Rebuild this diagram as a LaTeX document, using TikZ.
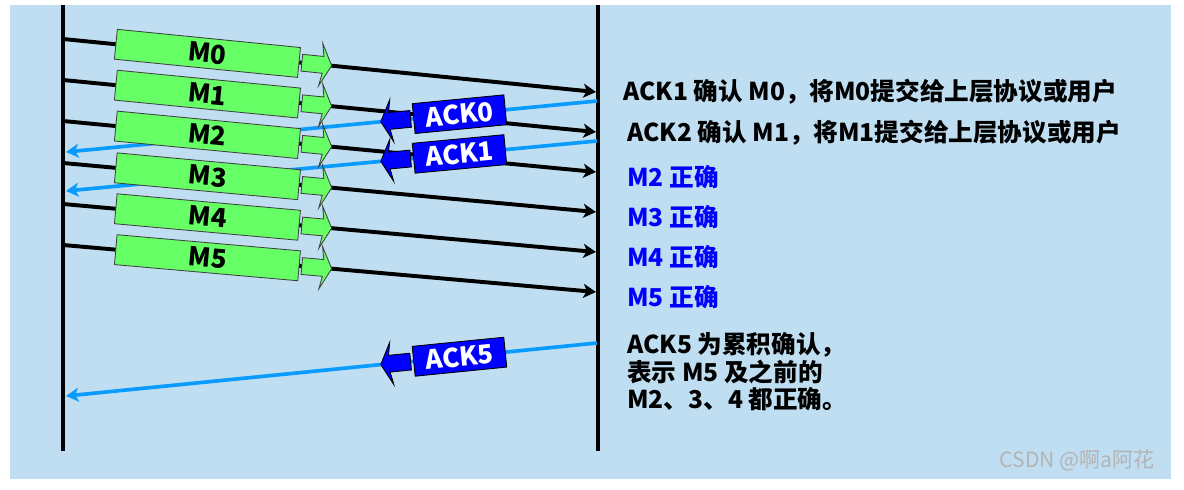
\documentclass[tikz,border=0pt]{standalone}
\usepackage{fontspec}
\setmainfont{Noto Sans CJK SC}
\usepackage{tikz}
\usetikzlibrary{arrows.meta,shapes.arrows}
\definecolor{sky}{HTML}{BFDEF2}
\definecolor{pktgreen}{HTML}{66FF66}
\definecolor{ackblue}{HTML}{0000FF}
\definecolor{ackline}{HTML}{0A9BFF}
\definecolor{mark}{HTML}{B4B4B4}

\begin{document}
\begin{tikzpicture}[x=0.025cm,y=-0.025cm,
  life/.style={line width=3.2pt},
  msgline/.style={line width=2.8pt,-{Stealth[length=9pt,width=10pt,inset=2.5pt]}},
  ackpath/.style={draw=ackline,line width=2.6pt,-{Stealth[length=9pt,width=10pt,inset=2.5pt]}},
  pkt/.style={draw=black!75,line width=0.6pt,fill=pktgreen,minimum width=4.6cm,minimum height=0.75cm,inner sep=0pt,font=\bfseries\fontsize{18.5}{20}\selectfont},
  pktarrow/.style={shape=single arrow,draw=black!75,line width=0.6pt,fill=pktgreen,minimum height=0.75cm,inner xsep=0pt,inner ysep=0.2cm,single arrow head extend=0.32cm,single arrow tip angle=125,single arrow head indent=0.06cm},
  ackbox/.style={draw=black,line width=0.6pt,fill=ackblue,text=white,minimum width=2.3cm,minimum height=0.75cm,inner sep=0pt,font=\bfseries\fontsize{18.5}{20}\selectfont},
  ackarrow/.style={pktarrow,fill=ackblue,draw=black,shape border rotate=180},
  note/.style={anchor=west,inner sep=0pt,font=\bfseries\fontsize{17.5}{20}\selectfont}]
\useasboundingbox (0,0) rectangle (1184,490);
\fill[sky] (10,5) rectangle (1171,479);

\coordinate (ltop) at (63,5);
\coordinate (lbot) at (63,451);
\coordinate (rtop) at (598,5);
\coordinate (rbot) at (598,451);
\draw[life] (ltop) -- (lbot);
\draw[life] (rtop) -- (rbot);

\foreach \j/\ys/\ye in {0/101/152,1/141/191,5/343/396}{
  \coordinate (ra\j) at (597,\ys);
  \coordinate (la\j) at (66,\ye);
  \draw[ackpath] (ra\j) -- (la\j);
}

\foreach \i/\ys/\ye in {0/39/92,1/80/132,2/121/172,3/163/212,4/204/252,5/245/292}{
  \coordinate (l\i) at (63,\ys);
  \coordinate (r\i) at (596,\ye);
  \draw[msgline] (l\i) -- (r\i)
    node[pktarrow,sloped,pos=.472] (g\i) {}
    node[pkt,sloped,pos=.271] (m\i) {M\i};
}

\foreach \j in {0,1,5}
  \path (ra\j) -- (la\j)
    node[ackarrow,sloped,pos=.375] (aa\j) {}
    node[ackbox,sloped,pos=.259] (ab\j) {ACK\j};

\node[note] (t1) at (623,92) {ACK1 确认 M0，将M0提交给上层协议或用户};
\node[note] (t2) at (627,133) {ACK2 确认 M1，将M1提交给上层协议或用户};
\foreach \k/\y in {2/177,3/217,4/257,5/297}
  \node[note,text=ackblue] (ok\k) at (627,\y) {M\k{} 正确};
\node[note,align=left,font=\bfseries\fontsize{17.5}{19.5}\selectfont] (sum) at (627,372) {ACK5 为累积确认，\\表示 M5 及之前的\\M2、3、4 都正确。};

\node[anchor=east,inner sep=0pt,text=mark,font=\fontsize{15}{18}\selectfont] (wm) at (1155,460) {CSDN @啊a阿花};
\end{tikzpicture}
\end{document}
